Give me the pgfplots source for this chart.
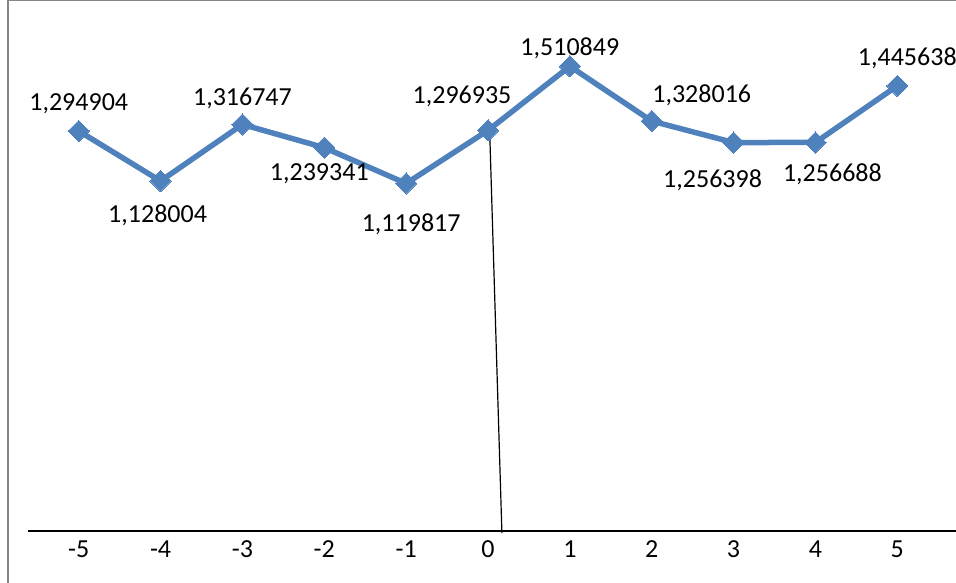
\documentclass[border=0pt]{standalone}
\usepackage{pgfplots}
\pgfplotsset{compat=1.18}
\usepackage{fontspec}
\setmainfont{Carlito}
\definecolor{xlblue}{RGB}{79,129,189}
\definecolor{frame}{RGB}{134,134,134}
\begin{document}
\begin{tikzpicture}[x=1pt,y=1pt,font=\fontsize{26}{30}\selectfont]
\path (0,0) rectangle (956,582);
\begin{pgfinterruptboundingbox}
\draw[frame, line width=2pt] (8,-20) -- (8,582) -- (990,582);
\begin{axis}[
  at={(488pt,63pt)}, anchor=origin,
  scale only axis, width=940pt, height=511pt,
  xmin=-5.6227, xmax=5.8608, ymin=-0.04, ymax=1.6654,
  axis x line*=bottom, axis y line=none,
  x axis line style={line width=1.5pt, -},
  xtick={-5,-4,-3,-2,-1,0,1,2,3,4,5},
  xticklabels={-5,-4,-3,-2,-1,0,1,2,3,4,5},
  major tick length=0pt,
  tick label style={font=\fontsize{26}{30}\selectfont},
  xticklabel style={yshift=-6pt},
  every node/.append style={font=\fontsize{26}{30}\selectfont},
  /pgf/number format/assume math mode=true,
  clip=false,
]
\addplot[black, line width=1.2pt] coordinates {(0.02,1.296935) (0.17,-0.047)};
\addplot[xlblue, line width=5.5pt, mark=square*, mark size=7.5pt,
  mark options={rotate=45, solid, fill=xlblue, draw=xlblue, line width=0pt}]
  coordinates {
  (-5,1.294904) (-4,1.128004) (-3,1.316747) (-2,1.239341) (-1,1.119817)
  (0,1.296935) (1,1.510849) (2,1.328016) (3,1.256398) (4,1.256688) (5,1.445638)};
\node[xshift=0pt,yshift=27pt] at (axis cs:-5,1.294904) {1,294904};
\node[xshift=-3pt,yshift=-34pt] at (axis cs:-4,1.128004) {1,128004};
\node[xshift=0pt,yshift=26.5pt] at (axis cs:-3,1.316747) {1,316747};
\node[xshift=-5pt,yshift=-26.5pt] at (axis cs:-2,1.239341) {1,239341};
\node[xshift=5pt,yshift=-41pt] at (axis cs:-1,1.119817) {1,119817};
\node[xshift=-26pt,yshift=34pt] at (axis cs:0,1.296935) {1,296935};
\node[xshift=0pt,yshift=18pt] at (axis cs:1,1.510849) {1,510849};
\node[xshift=50pt,yshift=26pt] at (axis cs:2,1.328016) {1,328016};
\node[xshift=-21pt,yshift=-37.5pt] at (axis cs:3,1.256398) {1,256398};
\node[xshift=17pt,yshift=-31.6pt] at (axis cs:4,1.256688) {1,256688};
\node[xshift=10pt,yshift=28pt] at (axis cs:5,1.445638) {1,445638};
\end{axis}
\end{pgfinterruptboundingbox}
\end{tikzpicture}
\end{document}
